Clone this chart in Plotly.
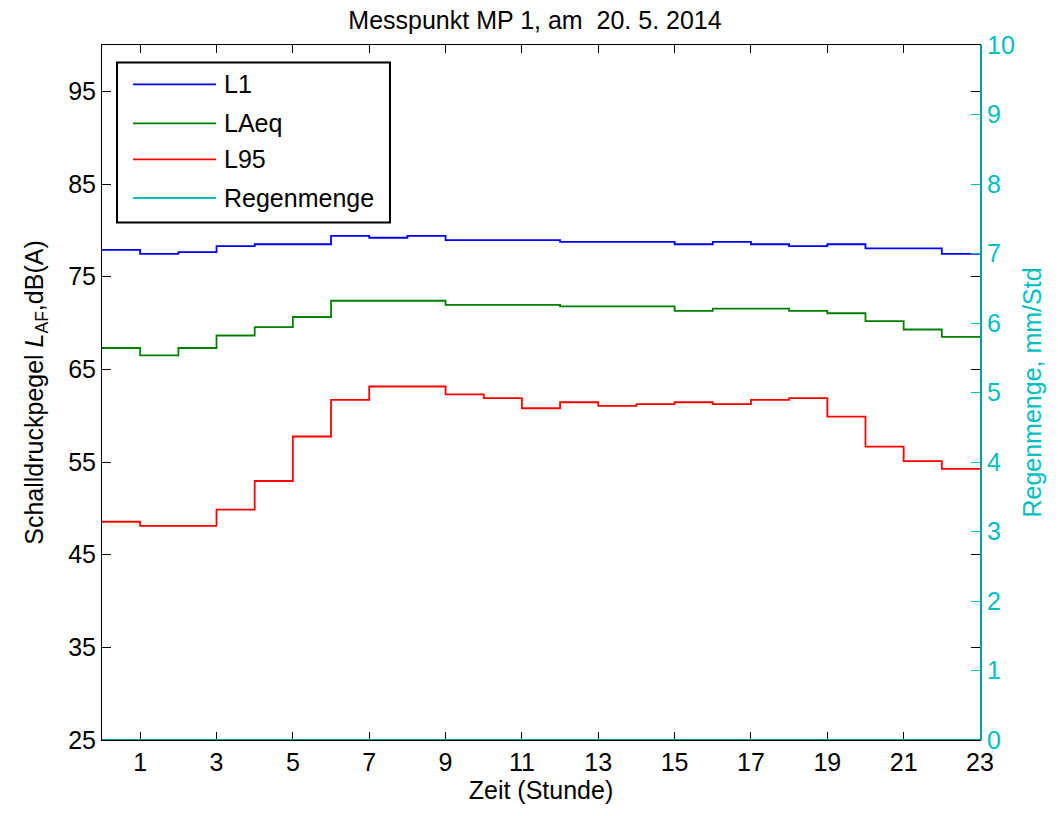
import plotly.graph_objects as go

# Hourly levels for measurement point MP 1 (start of each hour, 0..22)
hours = list(range(0, 23))
L1 = [77.9, 77.45, 77.65, 78.3, 78.5, 78.5, 79.4, 79.2, 79.4, 78.95, 78.95, 78.95,
      78.75, 78.75, 78.75, 78.5, 78.75, 78.5, 78.3, 78.5, 78.05, 78.05, 77.45]
LAeq = [67.3, 66.5, 67.3, 68.65, 69.55, 70.65, 72.4, 72.4, 72.4, 71.95, 71.95, 71.95,
        71.8, 71.8, 71.8, 71.3, 71.55, 71.55, 71.3, 71.05, 70.2, 69.3, 68.5]
L95 = [48.55, 48.1, 48.1, 49.85, 52.95, 57.75, 61.7, 63.15, 63.15, 62.3, 61.9, 60.8,
       61.45, 61.05, 61.25, 61.45, 61.25, 61.7, 61.9, 59.9, 56.65, 55.1, 54.25]
regen = [0] * 23  # mm/Std

x_ticks = list(range(1, 24, 2))
y_ticks = list(range(25, 100, 10))
y2_ticks = list(range(0, 11))

FONT = "Liberation Sans, Arial, sans-serif"
FS = 25
CYAN = "#00BFBF"
TEAL = "#009E9E"


def stairs(values):
    # close the last hour so every step is one hour wide
    return hours + [hours[-1] + 1], values + [values[-1]]


series = [("L1", L1, "#0000FF"), ("LAeq", LAeq, "#008000"), ("L95", L95, "#FF0000")]

fig = go.Figure()
for name, vals, col in series:
    xs, ys = stairs(vals)
    fig.add_trace(go.Scatter(x=xs, y=ys, mode="lines", name=name, line_shape="hv",
                             line=dict(color=col, width=1.8), yaxis="y"))
xs, ys = stairs(regen)
fig.add_trace(go.Scatter(x=xs, y=ys, mode="lines", name="Regenmenge", line_shape="hv",
                         line=dict(color=TEAL, width=2), yaxis="y2", cliponaxis=False))

# plot area: x 102..980 px, y 45..740 px
L, R, T, B = 102, 980, 45, 740
W, H = 1058, 816

fig.update_layout(
    width=W, height=H,
    margin=dict(l=L, r=W - R, t=T, b=H - B),
    paper_bgcolor="white", plot_bgcolor="white",
    font=dict(family=FONT, size=FS, color="black"),
    showlegend=False,
    title=dict(text="Messpunkt MP 1, am  20. 5. 2014", x=535 / W, xref="container",
               xanchor="center", y=1 - 20 / H, yref="container", yanchor="middle",
               font=dict(size=25, family=FONT, color="black")),
    xaxis=dict(range=[0, 23], tickvals=x_ticks, ticks="inside", ticklen=8,
               tickcolor="black", showline=True, linecolor="black", linewidth=1,
               mirror="ticks", showgrid=False, zeroline=False, layer="below traces",
               tickfont=dict(size=FS),
               title=dict(text="Zeit (Stunde)", standoff=6, font=dict(size=FS))),
    yaxis=dict(range=[25, 100], tickvals=y_ticks, ticks="inside", ticklen=9,
               tickcolor="black", showline=True, linecolor="black", linewidth=1,
               mirror="ticks", showgrid=False, zeroline=False,
               tickfont=dict(size=FS),
               title=dict(text="Schalldruckpegel <i>L</i><sub>AF</sub>,dB(A)",
                          standoff=17, font=dict(size=FS))),
    yaxis2=dict(range=[0, 10], tickvals=y2_ticks, overlaying="y", side="right",
                ticks="inside", ticklen=9, tickcolor=CYAN, showline=True,
                linecolor=TEAL, linewidth=2, showgrid=False, zeroline=False,
                tickfont=dict(size=FS, color=CYAN),
                title=dict(text="Regenmenge, mm/Std", standoff=10,
                           font=dict(size=FS, color=CYAN))),
)


def px_x(p):
    return (p - L) / (R - L)


def px_y(p):
    return (B - p) / (B - T)


# legend box drawn in the upper-left corner
fig.add_shape(type="rect", xref="paper", yref="paper",
              x0=px_x(117), x1=px_x(390), y0=px_y(222.5), y1=px_y(62.5),
              line=dict(color="black", width=2), fillcolor="white", layer="above")
legend_rows = [84.3, 123.3, 159.3, 198]
legend_items = [(n, c) for n, _, c in series] + [("Regenmenge", CYAN)]
for (name, col), yp in zip(legend_items, legend_rows):
    fig.add_shape(type="line", xref="paper", yref="paper",
                  x0=px_x(133), x1=px_x(216), y0=px_y(yp), y1=px_y(yp),
                  line=dict(color=col, width=1.8), layer="above")
    fig.add_annotation(text=name, xref="paper", yref="paper", x=px_x(222), y=px_y(yp),
                       xanchor="left", yanchor="middle", showarrow=False,
                       font=dict(size=FS, family=FONT, color="black"))

fig.write_html("out.html")
